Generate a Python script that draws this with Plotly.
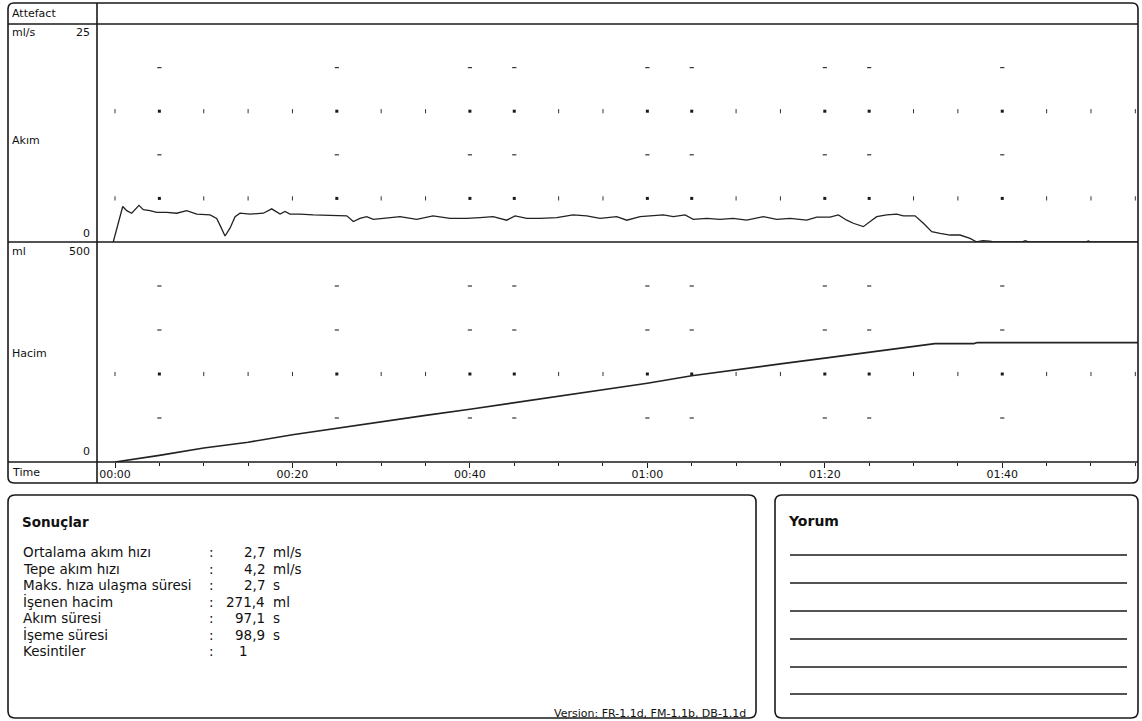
import plotly.graph_objects as go

W, H = 1142, 721
FONT = "DejaVu Sans, Liberation Sans, Arial, sans-serif"
INK = "#1a1a1a"

# ---- uroflow recording: flow rate (ml/s) against time (s) ----
flow_t = [-0.2, 0.87, 1.32, 1.88, 2.7, 3.19, 3.94, 4.7, 5.83, 6.95, 8.08, 9.21,
          10.71, 11.46, 11.91, 12.4, 12.96, 13.53, 14.09, 15.22, 16.72, 17.66,
          18.6, 19.16, 19.72, 20.85, 22.35, 24.57, 26.12, 26.86, 27.61, 28.37,
          29.11, 30.24, 31.37, 32.12, 34.0, 35.84, 37.76, 39.64, 41.14, 42.61,
          44.15, 45.09, 46.41, 47.9, 49.79, 51.62, 53.17, 54.67, 56.55, 57.68,
          59.18, 60.67, 61.8, 62.93, 64.25, 65.18, 66.69, 68.19, 69.66, 71.2,
          73.07, 74.58, 76.08, 77.96, 79.09, 80.59, 81.53, 82.47, 83.21, 84.34,
          85.1, 85.85, 86.98, 88.11, 88.85, 90.17, 91.11, 92.05, 92.99, 94.12,
          95.24, 96.37, 97.12, 97.8, 98.6, 99.0, 102.2, 102.6, 103.0, 109.4,
          109.7, 110.0, 115.3]
flow_v = [0.0, 4.07, 3.6, 3.3, 4.2, 3.7, 3.6, 3.4, 3.4, 3.3, 3.6, 3.2,
          3.1, 2.7, 1.76, 0.69, 1.58, 2.9, 3.3, 3.2, 3.3, 3.8,
          3.2, 3.5, 3.2, 3.2, 3.1, 3.0, 3.0, 2.34, 2.7, 2.9,
          2.6, 2.7, 2.85, 2.9, 2.6, 3.0, 2.7, 2.7, 2.8, 2.9,
          2.5, 3.0, 2.7, 2.7, 2.8, 3.1, 3.0, 2.7, 2.9, 2.5,
          2.9, 3.0, 3.1, 2.9, 3.1, 2.6, 2.7, 2.6, 2.7, 2.5,
          2.9, 2.6, 2.7, 2.5, 2.85, 2.85, 3.1, 2.5, 2.15, 1.76,
          2.34, 2.9, 3.1, 3.2, 3.0, 3.0, 2.15, 1.19, 1.0, 0.8,
          0.8, 0.42, 0.0, 0.15, 0.1, 0.0, 0.0, 0.15, 0.0, 0.0,
          0.12, 0.0, 0.0]

# ---- voided volume (ml) against time (s) ----
vol_t = [0, 5, 10, 12.5, 15, 20, 25, 30, 35, 40, 45, 50, 55, 60, 65, 70,
         75, 80, 85, 90, 92.4, 96.8, 97.2, 115.3]
vol_v = [0, 15, 32, 38, 45, 62, 77, 91, 106, 120, 135, 150, 164, 179, 196, 210,
         223, 236, 250, 263, 269, 269, 271.4, 271.4]

# ---- dotted reference grid ----
grid_cols = list(range(0, 116, 5))
strong_cols = [5, 25, 40, 45, 60, 65, 80, 85, 100]
flow_full_rows = [5, 15]
flow_sparse_rows = [10, 20]
vol_full_rows = [200]
vol_sparse_rows = [100, 300, 400]

# ---- time axis ----
time_ticks = [0, 20, 40, 60, 80, 100]
time_labels = ["00:00", "00:20", "00:40", "01:00", "01:20", "01:40"]
minor_ticks = list(range(0, 116, 5))

flow_range = [0, 25]
vol_range = [0, 500]

# ---- results table ----
result_labels = ["Ortalama akım hızı", "Tepe akım hızı", "Maks. hıza ulaşma süresi",
                 "İşenen hacim", "Akım süresi", "İşeme süresi", "Kesintiler"]
result_values = ["2,7", "4,2", "2,7", "271,4", "97,1", "98,9", "1"]
result_units = ["ml/s", "ml/s", "s", "ml", "s", "s", ""]


def px(x):
    return x / W


def py(y):
    return 1 - y / H


def rounded_rect(x0, y0, x1, y1, r):
    pts = [
        ("M", (x0 + r, y0)), ("L", (x1 - r, y0)), ("Q", (x1, y0), (x1, y0 + r)),
        ("L", (x1, y1 - r)), ("Q", (x1, y1), (x1 - r, y1)),
        ("L", (x0 + r, y1)), ("Q", (x0, y1), (x0, y1 - r)),
        ("L", (x0, y0 + r)), ("Q", (x0, y0), (x0 + r, y0)),
    ]
    out = []
    for item in pts:
        cmd = item[0]
        coords = " ".join(f"{px(a):.5f},{py(b):.5f}" for a, b in item[1:])
        out.append(f"{cmd} {coords}")
    return " ".join(out) + " Z"


fig = go.Figure()

X0, X1 = -2.03, 115.3


def add_grid(xa, ya, full_rows, sparse_rows):
    weak_cols = [c for c in grid_cols if c not in strong_cols]
    for row in full_rows:
        fig.add_trace(go.Scatter(
            x=strong_cols, y=[row] * len(strong_cols), mode="markers",
            xaxis=xa, yaxis=ya, hoverinfo="skip", showlegend=False,
            marker=dict(symbol="square", size=3, color=INK, line=dict(width=0))))
        fig.add_trace(go.Scatter(
            x=weak_cols, y=[row] * len(weak_cols), mode="markers",
            xaxis=xa, yaxis=ya, hoverinfo="skip", showlegend=False,
            marker=dict(symbol="line-ns", size=3, color=INK,
                        line=dict(width=1, color="#333"))))
    for row in sparse_rows:
        fig.add_trace(go.Scatter(
            x=strong_cols, y=[row] * len(strong_cols), mode="markers",
            xaxis=xa, yaxis=ya, hoverinfo="skip", showlegend=False,
            marker=dict(symbol="line-ew", size=3, color=INK,
                        line=dict(width=1.2, color="#333"))))


add_grid("x", "y", flow_full_rows, flow_sparse_rows)
add_grid("x2", "y2", vol_full_rows, vol_sparse_rows)

fig.add_trace(go.Scatter(x=flow_t, y=flow_v, mode="lines", xaxis="x", yaxis="y",
                         line=dict(color="#222", width=1.3), hoverinfo="skip",
                         showlegend=False))
fig.add_trace(go.Scatter(x=vol_t, y=vol_v, mode="lines", xaxis="x2", yaxis="y2",
                         line=dict(color="#222", width=1.6), hoverinfo="skip",
                         showlegend=False))

xdom = [px(97), px(1138)]
common_x = dict(range=[X0, X1], domain=xdom, showgrid=False, zeroline=False,
                showline=False, fixedrange=True)
fig.update_layout(
    xaxis=dict(**common_x, anchor="y", showticklabels=False, ticks=""),
    yaxis=dict(range=flow_range, domain=[py(242), py(24)], showgrid=False,
               zeroline=False, showticklabels=False, ticks="", anchor="x"),
    xaxis2=dict(**common_x, anchor="y2", tickmode="array", tickvals=time_ticks,
                ticktext=time_labels, ticks="outside", ticklen=5, tickwidth=1,
                tickcolor=INK, ticklabelstandoff=-3,
                tickfont=dict(family=FONT, size=11, color="#111"),
                minor=dict(tickmode="array", tickvals=minor_ticks, ticks="outside",
                           ticklen=3, tickwidth=1, tickcolor=INK)),
    yaxis2=dict(range=vol_range, domain=[py(462), py(242)], showgrid=False,
                zeroline=False, showticklabels=False, ticks="", anchor="x2"),
)

shapes = []
line_style = dict(color=INK, width=1.6)
# chart frame and row separators
shapes.append(dict(type="path", path=rounded_rect(8, 3, 1138, 483, 6),
                   xref="paper", yref="paper", line=line_style))
for yy in (24, 242, 462):
    shapes.append(dict(type="line", xref="paper", yref="paper",
                       x0=px(8), x1=px(1138), y0=py(yy), y1=py(yy), line=line_style))
shapes.append(dict(type="line", xref="paper", yref="paper",
                   x0=px(97), x1=px(97), y0=py(3), y1=py(483), line=line_style))
# results and comment boxes
shapes.append(dict(type="path", path=rounded_rect(8, 495, 756, 718, 7),
                   xref="paper", yref="paper", line=line_style))
shapes.append(dict(type="path", path=rounded_rect(775, 495, 1138, 718, 7),
                   xref="paper", yref="paper", line=line_style))
for yy in (555, 583, 611, 639, 667, 694):
    shapes.append(dict(type="line", xref="paper", yref="paper",
                       x0=px(790), x1=px(1127), y0=py(yy), y1=py(yy),
                       line=dict(color=INK, width=1.5)))

annotations = []


def label(text, x, y, anchor="left", size=11, bold=False):
    t = f"<b>{text}</b>" if bold else text
    annotations.append(dict(text=t, x=px(x), y=py(y), xref="paper", yref="paper",
                            xanchor=anchor, yanchor="middle", showarrow=False,
                            font=dict(family=FONT, size=size, color="#111")))


label("Attefact", 10, 14)
label("ml/s", 10, 33)
label(str(flow_range[1]), 92, 33, "right")
label("Akım", 10, 140)
label(str(flow_range[0]), 92, 233, "right")
label("ml", 10, 251)
label(str(vol_range[1]), 92, 251, "right")
label("Hacim", 10, 353)
label(str(vol_range[0]), 92, 451, "right")
label("Time", 10, 472)

label("Sonuçlar", 20, 522, size=13.5, bold=True)
row_y = 552
for name, val, unit in zip(result_labels, result_values, result_units):
    label(name, 21, row_y, size=13.5)
    label(":", 207, row_y, size=13.5)
    label(val, 267 if "," in val else 250, row_y, "right", size=13.5)
    if unit:
        label(unit, 271, row_y, size=13.5)
    row_y += 16.5
label("Version: FR-1.1d, FM-1.1b, DB-1.1d", 748, 713, "right", size=11)
label("Yorum", 786, 521, size=14, bold=True)

fig.update_layout(
    width=W, height=H, margin=dict(l=0, r=0, t=0, b=0),
    paper_bgcolor="white", plot_bgcolor="white",
    shapes=shapes, annotations=annotations, showlegend=False,
)

fig.write_html("out.html")
